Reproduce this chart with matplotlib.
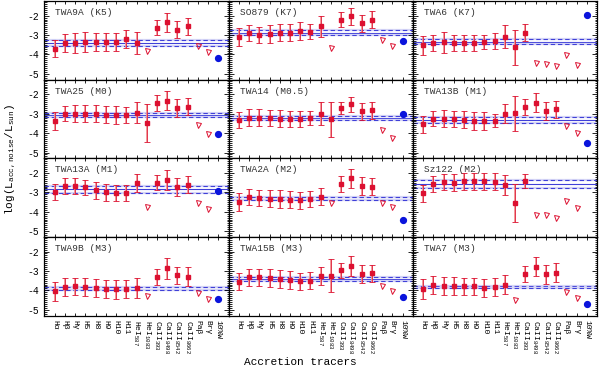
import numpy as np
import matplotlib
matplotlib.use('Agg')
import matplotlib.pyplot as plt
from matplotlib.ticker import MultipleLocator

plt.rcParams['font.family'] = ['Liberation Mono', 'DejaVu Sans Mono']
plt.rcParams['mathtext.fontset'] = 'custom'
plt.rcParams['mathtext.rm'] = 'Liberation Mono'
plt.rcParams['mathtext.it'] = 'Liberation Mono'
plt.rcParams['axes.unicode_minus'] = False

tracers = ['H\u03b1', 'H\u03b2', 'H\u03b3', 'H5', 'H8', 'H9', 'H10', 'H11',
           r'HeI$_{587}$', r'HeI$_{1083}$', r'CaII$_{393}$', r'CaII$_{8498}$',
           r'CaII$_{8542}$', r'CaII$_{8662}$', 'Pa\u03b2', 'Br\u03b3', '10%W']

names = ['TWA9A (K5)', 'SO879 (K7)', 'TWA6 (K7)',
         'TWA25 (M0)', 'TWA14 (M0.5)', 'TWA13B (M1)',
         'TWA13A (M1)', 'TWA2A (M2)', 'Sz122 (M2)',
         'TWA9B (M3)', 'TWA15B (M3)', 'TWA7 (M3)']

vals = [
    [-3.70, -3.40, -3.40, -3.35, -3.35, -3.35, -3.35, -3.20, -3.40, -3.80, -2.62, -2.35, -2.72, -2.55, -3.55, -3.85],
    [-3.10, -2.88, -3.00, -2.95, -2.87, -2.88, -2.80, -2.82, -2.55, -3.65, -2.20, -2.03, -2.40, -2.20, -3.27, -3.55],
    [-3.53, -3.40, -3.37, -3.40, -3.42, -3.42, -3.37, -3.30, -3.08, -3.62, -2.87, -4.45, -4.48, -4.58, -4.02, -4.52],
    [-3.37, -3.00, -3.00, -3.00, -3.00, -3.05, -3.07, -3.05, -2.95, -3.47, -2.45, -2.33, -2.70, -2.63, -3.60, -4.03],
    [-3.32, -3.20, -3.20, -3.22, -3.25, -3.27, -3.27, -3.22, -3.00, -3.28, -2.72, -2.52, -2.88, -2.83, -3.85, -4.25],
    [-3.55, -3.25, -3.25, -3.28, -3.30, -3.38, -3.38, -3.35, -3.00, -2.98, -2.65, -2.43, -2.85, -2.77, -3.63, -3.97],
    [-2.98, -2.67, -2.67, -2.75, -2.90, -3.00, -3.03, -3.03, -2.53, -3.75, -2.50, -2.37, -2.72, -2.60, -3.55, -3.88],
    [-3.50, -3.25, -3.30, -3.33, -3.35, -3.37, -3.42, -3.33, -3.22, -3.55, -2.58, -2.28, -2.68, -2.70, -3.53, -3.77],
    [-3.05, -2.58, -2.47, -2.50, -2.43, -2.43, -2.43, -2.45, -2.63, -3.55, -2.42, -4.17, -4.18, -4.33, -3.45, -3.83],
    [-4.05, -3.83, -3.80, -3.82, -3.87, -3.92, -3.95, -3.92, -3.87, -4.30, -3.30, -2.87, -3.23, -3.30, -4.13, -4.45],
    [-3.55, -3.33, -3.33, -3.37, -3.42, -3.47, -3.53, -3.50, -3.25, -3.25, -2.97, -2.75, -3.15, -3.13, -3.78, -4.05],
    [-3.93, -3.72, -3.77, -3.78, -3.80, -3.80, -3.87, -3.83, -3.70, -4.52, -3.17, -2.78, -3.18, -3.08, -4.07, -4.37],
]

errs = [
    [0.45, 0.45, 0.50, 0.50, 0.45, 0.45, 0.45, 0.45, 0.55, 0, 0.40, 0.50, 0.45, 0.45, 0, 0],
    [0.45, 0.40, 0.42, 0.45, 0.45, 0.45, 0.45, 0.40, 0.55, 0, 0.40, 0.45, 0.45, 0.45, 0, 0],
    [0.48, 0.40, 0.55, 0.40, 0.40, 0.40, 0.35, 0.40, 0.60, 0.90, 0.45, 0, 0, 0, 0, 0],
    [0.45, 0.40, 0.45, 0.45, 0.45, 0.45, 0.45, 0.42, 0.55, 0.98, 0.40, 0.50, 0.45, 0.45, 0, 0],
    [0.43, 0.42, 0.42, 0.42, 0.45, 0.42, 0.42, 0.35, 0.60, 0.90, 0.30, 0.40, 0.45, 0.45, 0, 0],
    [0.45, 0.40, 0.42, 0.42, 0.45, 0.45, 0.45, 0.35, 0.50, 0.90, 0.40, 0.50, 0.45, 0.45, 0, 0],
    [0.40, 0.40, 0.40, 0.40, 0.42, 0.45, 0.42, 0.42, 0.45, 0, 0.40, 0.50, 0.45, 0.45, 0, 0],
    [0.45, 0.40, 0.40, 0.45, 0.45, 0.45, 0.45, 0.40, 0.45, 0, 0.40, 0.50, 0.45, 0.45, 0, 0],
    [0.45, 0.40, 0.40, 0.45, 0.45, 0.45, 0.45, 0.45, 0.50, 0.98, 0.38, 0, 0, 0, 0, 0],
    [0.50, 0.45, 0.45, 0.45, 0.45, 0.48, 0.48, 0.45, 0.50, 0, 0.40, 0.55, 0.45, 0.50, 0, 0],
    [0.45, 0.42, 0.42, 0.45, 0.45, 0.45, 0.45, 0.45, 0.45, 0.85, 0.40, 0.50, 0.45, 0.45, 0, 0],
    [0.50, 0.45, 0.45, 0.45, 0.45, 0.45, 0.48, 0.45, 0.50, 0, 0.40, 0.50, 0.50, 0.50, 0, 0],
]

# indices of tracers that are only upper limits
uplims = [
    [9, 14, 15], [9, 14, 15], [11, 12, 13, 14, 15],
    [14, 15], [14, 15], [14, 15],
    [9, 14, 15], [9, 14, 15], [11, 12, 13, 14, 15],
    [9, 14, 15], [14, 15], [9, 14, 15],
]

w10 = [-4.20, -3.28, -1.98, -4.02, -3.02, -4.50, -2.92, -4.40, np.nan, -4.42, -4.33, -4.68]

means = [-3.40, -2.88, -3.38, -3.07, -3.23, -3.33, -2.83, -3.33, -2.58, -3.92, -3.42, -3.83]
sig_hi = [-3.25, -2.75, -3.22, -2.94, -3.13, -3.17, -2.67, -3.25, -2.38, -3.84, -3.32, -3.75]
sig_lo = [-3.55, -3.02, -3.48, -3.18, -3.30, -3.47, -3.03, -3.42, -2.78, -3.98, -3.52, -3.88]

red = '#dc1030'
blue = '#0a14dc'

fig, axes = plt.subplots(4, 3, figsize=(6, 3.7), dpi=100, sharex=True, sharey=True)
fig.subplots_adjust(left=0.074, right=0.995, top=0.997, bottom=0.147, wspace=0, hspace=0)

x = np.arange(len(tracers))
for k, ax in enumerate(axes.flat):
    v = np.array(vals[k])
    e = np.array(errs[k])
    xs = x[:16]
    det = np.ones(16, bool)
    det[uplims[k]] = False

    ax.axhline(means[k], color='#4040d8', lw=0.8, zorder=1)
    for yy in (sig_hi[k], sig_lo[k]):
        ax.axhline(yy, color='#d6d6f6', lw=1.6, zorder=1)
        ax.axhline(yy, color='#4040d8', lw=0.8, ls=(0, (4, 2.5)), zorder=1)

    ax.errorbar(xs[det], v[det], yerr=e[det], fmt='none', ecolor='#f29090',
                elinewidth=1.3, capsize=0, zorder=2)
    ax.errorbar(xs[det], v[det], yerr=e[det], fmt='s', ms=3.0, color=red,
                ecolor=red, elinewidth=0.5, capsize=2, capthick=0.6, zorder=3)
    ax.plot(xs[~det], v[~det], 'v', ms=3.6, mfc='none', mec=red, mew=0.7, zorder=3)
    ax.plot(x[16], w10[k], 'o', ms=4.2, color=blue, zorder=3)

    ax.text(0.06, 0.91, names[k], transform=ax.transAxes, fontsize=6.8,
            va='top', ha='left', color='#333333')

    ax.set_xlim(-1, 17)
    ax.set_ylim(-5.3, -1.25)
    ax.set_xticks(x)
    ax.yaxis.set_major_locator(MultipleLocator(1))
    ax.yaxis.set_minor_locator(MultipleLocator(0.1))
    ax.tick_params(axis='both', which='both', direction='in', top=True, right=True,
                   labelsize=7, width=0.6)
    ax.tick_params(axis='y', which='major', length=3.5)
    ax.tick_params(axis='y', which='minor', length=1.8)
    ax.tick_params(axis='x', which='major', length=2.5, pad=3)
    for s in ax.spines.values():
        s.set_linewidth(0.9)

for ax in axes[-1]:
    ax.set_xticklabels(tracers, rotation=-90, fontsize=5.8)

fig.text(0.5, 0.022, 'Accretion tracers', ha='center', va='center', fontsize=8)
fig.text(0.018, 0.57, r'log(L$_{acc,noise}$/L$_{sun}$)', rotation=90,
         ha='center', va='center', fontsize=8)

fig.savefig('out.png', dpi=100)
